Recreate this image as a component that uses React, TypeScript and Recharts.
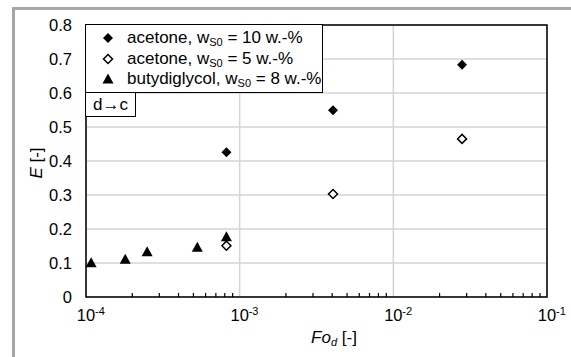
import React from "react";
import {
  ScatterChart,
  Scatter,
  XAxis,
  YAxis,
  CartesianGrid,
  ReferenceArea,
  ReferenceLine,
  Legend,
} from "recharts";

// Fo_d values and extraction E
const acetone10Fo = [8.2e-4, 4.05e-3, 2.8e-2];
const acetone10E = [0.426, 0.549, 0.683];

const acetone5Fo = [8.2e-4, 4.05e-3, 2.8e-2];
const acetone5E = [0.151, 0.303, 0.465];

const butylFo = [1.08e-4, 1.8e-4, 2.5e-4, 5.3e-4, 8.2e-4];
const butylE = [0.101, 0.111, 0.133, 0.146, 0.177];

const xTicks = [1e-4, 1e-3, 1e-2, 1e-1];
const yTicks = [0, 0.1, 0.2, 0.3, 0.4, 0.5, 0.6, 0.7, 0.8];
const minorTicks = [
  2e-4, 3e-4, 4e-4, 5e-4, 6e-4, 7e-4, 8e-4, 9e-4,
  2e-3, 3e-3, 4e-3, 5e-3, 6e-3, 7e-3, 8e-3, 9e-3,
  2e-2, 3e-2, 4e-2, 5e-2, 6e-2, 7e-2, 8e-2, 9e-2,
];

const toPoints = (xs: number[], ys: number[]) => xs.map((x, i) => ({ x, y: ys[i] }));

const FONT = "'Liberation Sans', Arial, sans-serif";

const FilledDiamond = ({ cx, cy }: any) => (
  <polygon points={`${cx},${cy - 5} ${cx + 5},${cy} ${cx},${cy + 5} ${cx - 5},${cy}`} fill="#000" />
);

const OpenDiamond = ({ cx, cy }: any) => (
  <polygon
    points={`${cx},${cy - 4.5} ${cx + 4.5},${cy} ${cx},${cy + 4.5} ${cx - 4.5},${cy}`}
    fill="#fff"
    stroke="#000"
    strokeWidth={1.5}
  />
);

const Triangle = ({ cx, cy }: any) => (
  <polygon points={`${cx},${cy - 5.5} ${cx + 5.5},${cy + 4.5} ${cx - 5.5},${cy + 4.5}`} fill="#000" />
);

const XTick = ({ x, y, payload }: any) => {
  const exp = Math.round(Math.log10(payload.value));
  return (
    <g>
      <text x={x} y={y + 24} textAnchor="middle" fontSize={16.5} fill="#000" fontFamily={FONT}>
        10
      </text>
      <text x={x + 9} y={y + 18} textAnchor="start" fontSize={11} fill="#000" fontFamily={FONT}>
        {exp}
      </text>
    </g>
  );
};

const XTitle = ({ viewBox }: any) => {
  const { x, y, width } = viewBox;
  return (
    <text x={x + width / 2 + 17.5} y={y + 46} textAnchor="middle" fontSize={17} fill="#000" fontFamily={FONT}>
      <tspan fontStyle="italic">Fo</tspan>
      <tspan fontStyle="italic" fontSize={11} dy={3}>d</tspan>
      <tspan dy={-3}> [-]</tspan>
    </text>
  );
};

const YTitle = ({ viewBox }: any) => {
  const { x, y, height } = viewBox;
  const tx = x + 16;
  const ty = y + height / 2 + 2;
  return (
    <text
      x={tx}
      y={ty}
      transform={`rotate(-90 ${tx} ${ty})`}
      textAnchor="middle"
      fontSize={17}
      fill="#000"
      fontFamily={FONT}
    >
      <tspan fontStyle="italic">E</tspan>
      <tspan> [-]</tspan>
    </text>
  );
};

const Sub = ({ children }: any) => (
  <span style={{ fontSize: 11, position: "relative", top: 3 }}>{children}</span>
);

const legendRows = [
  { icon: "filled", label: <>acetone, w<Sub>S0</Sub> = 10 w.-%</> },
  { icon: "open", label: <>acetone, w<Sub>S0</Sub> = 5 w.-%</> },
  { icon: "tri", label: <>butydiglycol, w<Sub>S0</Sub> = 8 w.-%</> },
];

const LegendIcon = ({ kind }: { kind: string }) => (
  <svg width={14} height={14} style={{ display: "block" }}>
    {kind === "filled" && <FilledDiamond cx={7} cy={7} />}
    {kind === "open" && <OpenDiamond cx={7} cy={7} />}
    {kind === "tri" && <Triangle cx={7} cy={7} />}
  </svg>
);

const LegendBox = () => (
  <div style={{ fontFamily: FONT, fontSize: 17, color: "#000" }}>
    <div
      style={{
        width: 236,
        border: "1.5px solid #000",
        background: "#fff",
        padding: "3px 0 3px 0",
        boxSizing: "content-box",
      }}
    >
      {legendRows.map((r, i) => (
        <div key={i} style={{ display: "flex", alignItems: "center", height: 20.4, whiteSpace: "nowrap" }}>
          <div style={{ width: 15 }} />
          <LegendIcon kind={r.icon} />
          <div style={{ width: 12 }} />
          <span>{r.label}</span>
        </div>
      ))}
    </div>
    <div
      style={{
        width: 49,
        height: 23,
        borderLeft: "1.5px solid #000",
        borderRight: "1.5px solid #000",
        borderBottom: "1.5px solid #000",
        background: "#fff",
        lineHeight: "23px",
        paddingLeft: 0,
        textAlign: "center",
      }}
    >
      d→c
    </div>
  </div>
);

export default function App() {
  return (
    <div
      style={{
        position: "absolute",
        left: 0,
        top: 0,
        width: 571,
        height: 357,
        background: "#fff",
        fontFamily: FONT,
        overflow: "hidden",
      }}
    >
      <div
        style={{
          position: "absolute",
          left: 12,
          top: 7,
          right: 0,
          bottom: 0,
          borderLeft: "3px solid #a6a6a6",
          borderTop: "3px solid #a6a6a6",
        }}
      />
      <ScatterChart
        width={571}
        height={357}
        margin={{ top: 25, right: 24, bottom: 20, left: 26 }}
        style={{ position: "absolute", left: 0, top: 0 }}
      >
        <CartesianGrid stroke="#d4d4d4" strokeWidth={1.5} />
        <XAxis
          dataKey="x"
          type="number"
          scale="log"
          domain={[1e-4, 1e-1]}
          ticks={xTicks}
          allowDataOverflow
          height={40}
          tickLine={false}
          axisLine={false}
          tickSize={0}
          tickMargin={0}
          tick={<XTick />}
          label={<XTitle />}
        />
        <YAxis
          dataKey="y"
          type="number"
          domain={[0, 0.8]}
          ticks={yTicks}
          width={60}
          tickLine={false}
          axisLine={false}
          tickSize={0}
          tickMargin={14}
          tick={{ fontSize: 16.5, fill: "#000", fontFamily: FONT }}
          tickFormatter={(v: number) => (v === 0 ? "0" : v.toFixed(1))}
          label={<YTitle />}
        />
        <ReferenceArea x1={1e-4} x2={1e-1} y1={0} y2={0.8} fill="none" stroke="#000" strokeWidth={1.5} />
        {minorTicks.map((v) => (
          <ReferenceLine
            key={v}
            segment={[
              { x: v, y: 0 },
              { x: v, y: 0.012 },
            ]}
            stroke="#000"
            strokeWidth={1.2}
          />
        ))}
        <Scatter
          name="acetone 10"
          data={toPoints(acetone10Fo, acetone10E)}
          shape={<FilledDiamond />}
          isAnimationActive={false}
        />
        <Scatter
          name="acetone 5"
          data={toPoints(acetone5Fo, acetone5E)}
          shape={<OpenDiamond />}
          isAnimationActive={false}
        />
        <Scatter
          name="butydiglycol"
          data={toPoints(butylFo, butylE)}
          shape={<Triangle />}
          isAnimationActive={false}
        />
        <Legend
          layout="vertical"
          align="center"
          verticalAlign="middle"
          content={<LegendBox />}
          wrapperStyle={{ position: "absolute", left: 85, top: 24, width: "auto" }}
        />
      </ScatterChart>
    </div>
  );
}
